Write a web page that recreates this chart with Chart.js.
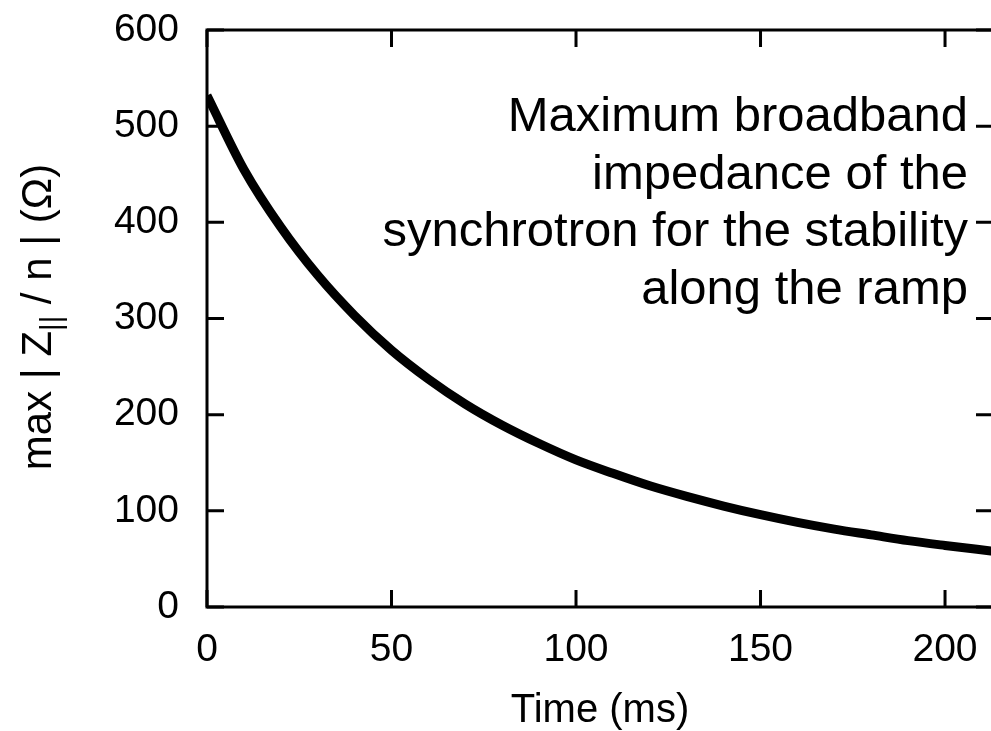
<!DOCTYPE html>
<html>
<head>
<meta charset="utf-8">
<title>Maximum broadband impedance along the ramp</title>
<script src="https://cdn.jsdelivr.net/npm/chart.js@4/dist/chart.umd.min.js"></script>
<style>
  html, body { margin: 0; padding: 0; background: #fff; overflow: hidden; }
  #wrap { width: 1000px; height: 731px; }
</style>
</head>
<body>
<div id="wrap"><canvas id="chart-impedance" width="1000" height="731"></canvas></div>
<script>
// ============================================================
//  Max |Z_par / n| tolerated along the synchrotron ramp
// ============================================================

// ---- Data ----
const timeMs       = [0, 10, 20, 30, 40, 50, 60, 70, 80, 90, 100, 110, 120, 130, 140, 150, 160, 170, 180, 190, 200, 213];
const maxImpedance = [532, 455, 395, 345, 303, 267, 237, 211, 189, 170, 153, 139, 126, 115, 105, 96, 88, 81, 75, 69, 64, 58];

const xTicks = [0, 50, 100, 150, 200];
const yTicks = [0, 100, 200, 300, 400, 500, 600];

const noteLines = [
  'Maximum broadband',
  'impedance of the',
  'synchrotron for the stability',
  'along the ramp',
];

const FONT = "'Liberation Sans', Arial, Helvetica, sans-serif";

// ---- Frame + inward ticks on all four sides (gnuplot look) ----
const framePlugin = {
  id: 'frame',
  afterDatasetsDraw(chart) {
    const { ctx, chartArea: a, scales: { x, y } } = chart;
    const len = 17;
    ctx.save();
    ctx.strokeStyle = '#000';
    ctx.lineWidth = 3;
    ctx.strokeRect(a.left, a.top, a.right - a.left, a.bottom - a.top);
    ctx.beginPath();
    xTicks.forEach(v => {
      const px = x.getPixelForValue(v);
      ctx.moveTo(px, a.bottom); ctx.lineTo(px, a.bottom - len);
      ctx.moveTo(px, a.top);    ctx.lineTo(px, a.top + len);
    });
    yTicks.forEach(v => {
      const py = y.getPixelForValue(v);
      ctx.moveTo(a.left, py);  ctx.lineTo(a.left + len, py);
      ctx.moveTo(a.right, py); ctx.lineTo(a.right - len, py);
    });
    ctx.stroke();
    ctx.restore();
  }
};

// ---- Text: note block + rotated y title with subscript ----
const textPlugin = {
  id: 'texts',
  afterDraw(chart) {
    const { ctx } = chart;
    ctx.save();
    ctx.fillStyle = '#000';

    // note, right aligned
    ctx.font = `49px ${FONT}`;
    ctx.textAlign = 'right';
    ctx.textBaseline = 'alphabetic';
    noteLines.forEach((line, i) => ctx.fillText(line, 968, 131 + i * 57.5));

    // y title:  max | Z|| / n | (Ω)
    const big = `42px ${FONT}`, small = `29px ${FONT}`;
    const parts = [
      { t: 'max | Z', f: big, dy: 0 },
      { t: '||', f: small, dy: 10 },
      { t: ' / n | (Ω)', f: big, dy: 0 },
    ];
    let total = 0;
    parts.forEach(p => { ctx.font = p.f; p.w = ctx.measureText(p.t).width; total += p.w; });
    ctx.translate(51, 317);
    ctx.rotate(-Math.PI / 2);
    ctx.textAlign = 'left';
    let cx = -total / 2;
    parts.forEach(p => {
      ctx.font = p.f;
      ctx.fillText(p.t, cx, p.dy);
      cx += p.w;
    });
    ctx.restore();
  }
};

// ---- Chart ----
const ctx = document.getElementById('chart-impedance');
new Chart(ctx, {
  type: 'line',
  data: {
    datasets: [{
      label: 'max |Z/n|',
      data: timeMs.map((t, i) => ({ x: t, y: maxImpedance[i] })),
      borderColor: '#000',
      borderWidth: 9,
      borderCapStyle: 'butt',
      pointRadius: 0,
      cubicInterpolationMode: 'monotone',
      fill: false,
    }]
  },
  options: {
    responsive: false,
    animation: false,
    events: [],
    layout: { padding: { top: 30, right: 7, left: 0, bottom: 0 } },
    plugins: { legend: { display: false }, tooltip: { enabled: false } },
    scales: {
      x: {
        type: 'linear',
        min: 0,
        max: 213,
        afterBuildTicks: s => { s.ticks = xTicks.map(v => ({ value: v })); },
        afterFit: s => { s.height = 124; s.paddingLeft = 0; s.paddingRight = 0; },
        grid: { display: false, drawTicks: false },
        border: { display: false },
        ticks: { color: '#000', font: { family: FONT, size: 39 }, padding: 20, maxRotation: 0 },
        title: {
          display: true,
          text: 'Time (ms)',
          color: '#000',
          font: { family: FONT, size: 40, lineHeight: 1 },
          padding: { top: 0, bottom: 0 },
        },
      },
      y: {
        type: 'linear',
        min: 0,
        max: 600,
        afterBuildTicks: s => { s.ticks = yTicks.map(v => ({ value: v })); },
        afterFit: s => { s.width = 207; s.paddingTop = 0; s.paddingBottom = 0; },
        grid: { display: false, drawTicks: false },
        border: { display: false },
        ticks: { color: '#000', font: { family: FONT, size: 39 }, padding: 28 },
      }
    }
  },
  plugins: [framePlugin, textPlugin]
});
</script>
</body>
</html>
